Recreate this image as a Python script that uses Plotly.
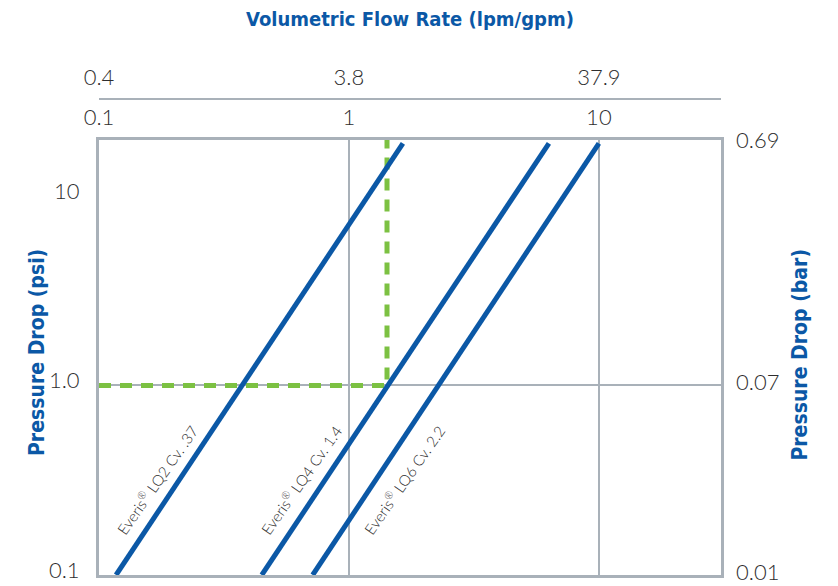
import math
import plotly.graph_objects as go

# ---- data ----
series_names = ["Everis® LQ2 Cv. .37", "Everis® LQ4 Cv. 1.4", "Everis® LQ6 Cv. 2.2"]
series_labels = ["Everis<sup>®</sup> LQ2 Cv. .37", "Everis<sup>®</sup> LQ4 Cv. 1.4", "Everis<sup>®</sup> LQ6 Cv. 2.2"]
flow_gpm = [[0.117, 1.644], [0.448, 6.31], [0.716, 10.0]]
drop_psi = [[0.1, 18.9], [0.1, 18.9], [0.1, 18.9]]
label_gpm = [0.1706, 0.643, 1.66]
label_psi = [0.317, 0.317, 0.317]

gpm_ticks = [0.1, 1, 10]
gpm_ticktext = ["0.1", "1", "10"]
LPM_PER_GPM = 3.785
lpm_ticks = [0.3785, 3.785, 37.85]
lpm_ticktext = ["0.4", "3.8", "37.9"]
psi_ticks = [0.1, 1, 10]
psi_ticktext = ["0.1", "1.0", "10"]
psi_grid = [1]
BAR_PER_PSI = 0.06895
bar_ticktext = ["0.01", "0.07", "0.69"]

gpm_range = [0.1, 30.8]
psi_range = [0.1, 19.7]

example_gpm = [0.1, 1.42, 1.42]
example_psi = [1.0, 1.0, 19.7]

BLUE = "#0b58a6"
GREEN = "#7cc142"
GRID = "#a9b1b9"
TXT = "#2e2e2e"
TICKFONT = dict(family="Lato, Open Sans, sans-serif", size=22, color=TXT, weight=300)
TITLEFONT = dict(family="Liberation Sans Narrow, DejaVu Sans Condensed, Roboto Condensed, sans-serif",
                 size=21, color=BLUE, weight=700)

xr = [math.log10(v) for v in gpm_range]
yr = [math.log10(v) for v in psi_range]
bar_offset = math.log10(BAR_PER_PSI)
# right-hand labels sit at the bottom edge, the 1 psi gridline and the top edge, as in the reference
bar_ticks = [psi_range[0] * BAR_PER_PSI, 1 * BAR_PER_PSI, 18.9 * BAR_PER_PSI]

fig = go.Figure()

fig.add_trace(go.Scatter(x=example_gpm, y=example_psi, mode="lines",
                         line=dict(color=GREEN, width=5, dash="12px,9px"),
                         hoverinfo="skip", showlegend=False))
for name, xs, ys in zip(series_names, flow_gpm, drop_psi):
    fig.add_trace(go.Scatter(x=xs, y=ys, mode="lines", name=name,
                             line=dict(color=BLUE, width=5), showlegend=False))

# invisible traces to activate secondary axes
fig.add_trace(go.Scatter(x=[lpm_ticks[1]], y=[1], xaxis="x2", yaxis="y", mode="markers",
                         marker=dict(opacity=0), hoverinfo="skip", showlegend=False))
fig.add_trace(go.Scatter(x=[1], y=[bar_ticks[1]], xaxis="x", yaxis="y2", mode="markers",
                         marker=dict(opacity=0), hoverinfo="skip", showlegend=False))
fig.add_trace(go.Scatter(x=[1], y=[1], xaxis="x", yaxis="y3", mode="markers",
                         marker=dict(opacity=0), hoverinfo="skip", showlegend=False))

for lbl, lx, ly in zip(series_labels, label_gpm, label_psi):
    fig.add_annotation(x=math.log10(lx), y=math.log10(ly),
                       xref="x", yref="y", text=lbl, showarrow=False, textangle=-55,
                       font=dict(family="Lato, Open Sans, sans-serif", size=15, color=TXT, weight=300))

fig.add_annotation(x=-0.1222, y=0.433, xref="paper", yref="paper", text="Pressure Drop (psi)",
                   showarrow=False, textangle=-90, font=TITLEFONT)
fig.add_annotation(x=1.1495, y=0.428, xref="paper", yref="paper", text="Pressure Drop (bar)",
                   showarrow=False, textangle=-90, font=TITLEFONT)

# page body has an 8px margin: shrink the figure so the plot lands where the reference has it
fig.update_layout(
    width=830, height=578,
    margin=dict(l=91, r=117, t=52, b=11),
    paper_bgcolor="white", plot_bgcolor="white",
    title=dict(text="Volumetric Flow Rate (lpm/gpm)", x=0.5, xref="paper", xanchor="center",
               y=1 - 11 / 578, yref="container", yanchor="middle",
               font=dict(TITLEFONT, size=20)),
    xaxis=dict(type="log", range=xr, side="top", tickvals=gpm_ticks, ticktext=gpm_ticktext,
               tickfont=TICKFONT, ticks="", ticklabelstandoff=3,
               showgrid=True, gridcolor=GRID, gridwidth=1.5,
               showline=True, linecolor=GRID, linewidth=3, mirror=True, zeroline=False,
               automargin=False),
    xaxis2=dict(type="log", range=[v + math.log10(LPM_PER_GPM) for v in xr], overlaying="x",
                anchor="free", position=0.9243,
                side="top", tickvals=lpm_ticks, ticktext=lpm_ticktext, tickfont=TICKFONT, ticks="",
                ticklabelstandoff=4, showgrid=False, showline=True, linecolor=GRID, linewidth=2,
                zeroline=False, automargin=False),
    yaxis=dict(type="log", range=[yr[0] - 1e-9, yr[1]], domain=[0, 0.8447], tickvals=psi_ticks,
               ticktext=psi_ticktext, tickfont=TICKFONT, ticks="", ticklabelstandoff=12,
               ticklabelshift=-5, ticklabeloverflow="allow",
               showgrid=False,
               showline=True, linecolor=GRID, linewidth=3, mirror=True, zeroline=False,
               automargin=False),
    yaxis2=dict(type="log", range=[yr[0] + bar_offset - 1e-9, yr[1] + bar_offset + 1e-9],
                overlaying="y", side="right", anchor="x",
                tickvals=bar_ticks, ticktext=bar_ticktext, tickfont=TICKFONT, ticks="",
                ticklabelstandoff=14, ticklabelshift=-3, ticklabeloverflow="allow",
                showgrid=False, showline=False, zeroline=False, automargin=False),
    yaxis3=dict(type="log", range=[yr[0] - 1e-9, yr[1]], overlaying="y", anchor="x",
                tickvals=psi_grid, showticklabels=False, ticks="",
                showgrid=True, gridcolor=GRID, gridwidth=1.5,
                showline=False, zeroline=False, automargin=False),
)

fig.write_html("out.html")
